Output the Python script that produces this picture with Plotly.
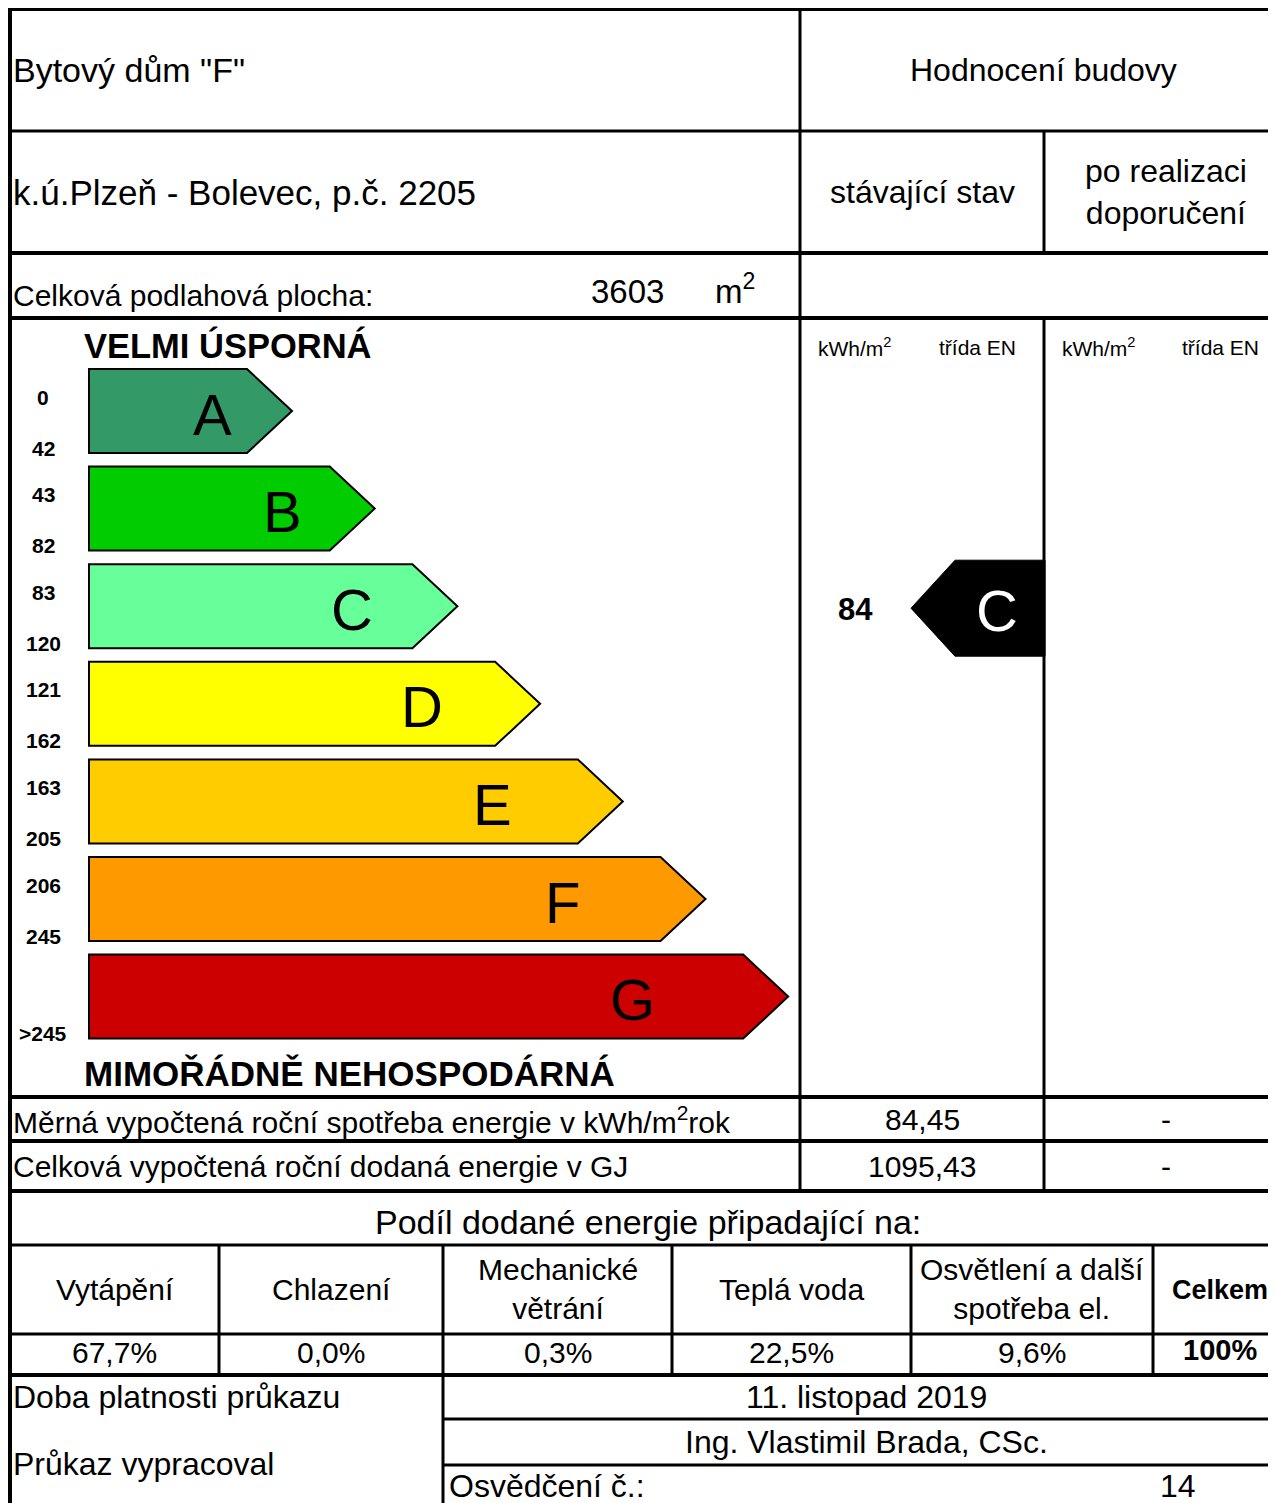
import plotly.graph_objects as go

# ---------------- data ----------------
building_name = 'Bytový dům "F"'
building_location = "k.ú.Plzeň - Bolevec, p.č. 2205"
floor_area_m2 = 3603

classes = ["A", "B", "C", "D", "E", "F", "G"]
class_colors = ["#339966", "#00CC00", "#66FF99", "#FFFF00", "#FFCC00", "#FF9900", "#CC0000"]
band_low = ["0", "43", "83", "121", "163", "206", ""]
band_high = ["42", "82", "120", "162", "205", "245", ">245"]

current_value_kwh_m2 = 84.45
current_total_gj = 1095.43
current_class = "C"
recommended_value = "-"
recommended_total = "-"

share_labels = ["Vytápění", "Chlazení", "Mechanické<br>větrání", "Teplá voda",
                "Osvětlení a další<br>spotřeba el."]
share_values = [67.7, 0.0, 0.3, 22.5, 9.6]
share_total_label = "Celkem"
share_total_value = "100%"

validity_date = "11. listopad 2019"
author = "Ing. Vlastimil Brada, CSc."
certificate_no = "14"

# ---------------- layout constants ----------------
W, H = 1276, 1503
OFF = 8  # page body margin
FONT = "Liberation Sans, Arial, sans-serif"
BLACK = "#000000"
PADX = 3  # annotation inner padding compensation

fig = go.Figure()
shapes = []
annotations = []


def hline(y, x0, x1, w):
    shapes.append(dict(type="line", x0=x0, x1=x1, y0=y, y1=y, xref="x", yref="y",
                       line=dict(color=BLACK, width=w)))


def vline(x, y0, y1, w):
    shapes.append(dict(type="line", x0=x, x1=x, y0=y0, y1=y1, xref="x", yref="y",
                       line=dict(color=BLACK, width=w)))


def text(x, y, s, size, anchor="left", bold=False, color=BLACK):
    if bold:
        s = "<b>" + s + "</b>"
    if anchor == "left":
        x = x - PADX
    annotations.append(dict(x=x, y=y, xref="x", yref="y", text=s, showarrow=False,
                            xanchor=anchor, yanchor="middle",
                            font=dict(family=FONT, size=size, color=color)))


def fmt_cz(v, nd):
    return f"{v:.{nd}f}".replace(".", ",")


# ---------------- grid ----------------
XL, XR = 10, W + 5
for y, x0, w in [(9, XL, 4), (131, XL, 3), (253, XL, 4), (318, XL, 4),
                 (1097, XL, 4), (1141, XL, 4), (1191, XL, 4), (1245, XL, 3),
                 (1334, XL, 3), (1375, XL, 4), (1419, 443, 3), (1465, 443, 3)]:
    hline(y, x0, XR, w)

vline(XL, OFF, H, 4)
vline(800, 9, 1191, 3)
vline(1044, 131, 253, 3)
vline(1044, 318, 1191, 3)
col_bounds = [XL, 219, 443, 672, 911, 1153, 1287]
for x in col_bounds[1:-1]:
    vline(x, 1245, 1375, 3)
vline(443, 1375, H, 3)

# ---------------- header ----------------
text(14, 70, building_name, 34)
text(1043, 70, "Hodnocení budovy", 32, "center")
text(14, 192, building_location, 35)
text(922, 192, "stávající stav", 32, "center")
text(1166, 192, "po realizaci<br>doporučení", 32, "center")
text(14, 295, "Celková podlahová plocha:", 30)
text(627, 291, str(floor_area_m2), 33, "center")
text(716, 289, "m<sup>2</sup>", 33)

text(855, 347, "kWh/m<sup>2</sup>", 21, "center")
text(977, 347, "třída EN", 21, "center")
text(1099, 347, "kWh/m<sup>2</sup>", 21, "center")
text(1220, 347, "třída EN", 21, "center")

# ---------------- class scale ----------------
text(85, 345, "VELMI ÚSPORNÁ", 34.5, bold=True)
text(85, 1073, "MIMOŘÁDNĚ NEHOSPODÁRNÁ", 35, bold=True)

TOP0, STEP, BH = 369, 97.6, 84
X0, BODY0, BODY_STEP, TIP = 89, 247, 82.7, 45
LET0, LET_STEP = 212, 70
for i, (c, col) in enumerate(zip(classes, class_colors)):
    top = TOP0 + i * STEP
    bot = top + BH
    mid = (top + bot) / 2
    xb = BODY0 + i * BODY_STEP
    path = f"M {X0},{top} L {xb},{top} L {xb + TIP},{mid} L {xb},{bot} L {X0},{bot} Z"
    shapes.append(dict(type="path", path=path, xref="x", yref="y", fillcolor=col,
                       line=dict(color=BLACK, width=2)))
    text(LET0 + i * LET_STEP, mid + 3, c, 58, "center")
    if band_low[i]:
        text(43, top + 28, band_low[i], 21, "center", bold=True)
    text(43, top + 79, band_high[i], 21, "center", bold=True)

# current class marker
ci = classes.index(current_class)
ctop = TOP0 + ci * STEP - 4
cbot = ctop + 96
cmid = (ctop + cbot) / 2
path = f"M 1045,{ctop} L 955,{ctop} L 911,{cmid} L 955,{cbot} L 1045,{cbot} Z"
shapes.append(dict(type="path", path=path, xref="x", yref="y", fillcolor=BLACK,
                   line=dict(color=BLACK, width=1)))
text(997, cmid + 2, current_class, 58, "center", color="#FFFFFF")
text(855, cmid + 1, str(round(current_value_kwh_m2)), 31, "center", bold=True)

# ---------------- energy rows ----------------
text(14, 1120, "Měrná vypočtená roční spotřeba energie v kWh/m<sup>2</sup>rok", 30)
text(922, 1119, fmt_cz(current_value_kwh_m2, 2), 30, "center")
text(1166, 1119, recommended_value, 30, "center")
text(14, 1166, "Celková vypočtená roční dodaná energie v GJ", 30)
text(922, 1166, fmt_cz(current_total_gj, 2), 30, "center")
text(1166, 1166, recommended_total, 30, "center")

# ---------------- shares ----------------
text(648, 1222, "Podíl dodané energie připadající na:", 34, "center")
centers = [(a + b) / 2 for a, b in zip(col_bounds[:-1], col_bounds[1:])]
for i, (lab, v) in enumerate(zip(share_labels, share_values)):
    text(centers[i], 1289, lab, 30, "center")
    text(centers[i], 1352, fmt_cz(v, 1) + "%", 30, "center")
text(centers[-1], 1290, share_total_label, 27, "center", bold=True)
text(centers[-1], 1350, share_total_value, 29, "center", bold=True)

# ---------------- footer ----------------
text(14, 1397, "Doba platnosti průkazu", 32)
text(866, 1397, validity_date, 32, "center")
text(14, 1464, "Průkaz vypracoval", 32)
text(866, 1442, author, 32, "center")
text(450, 1486, "Osvědčení č.:", 32)
text(1178, 1486, certificate_no, 32, "center")

fig.update_layout(
    width=W - OFF, height=H - OFF, margin=dict(l=0, r=0, t=0, b=0),
    paper_bgcolor="white", plot_bgcolor="white", showlegend=False,
    xaxis=dict(range=[OFF, W], visible=False, fixedrange=True),
    yaxis=dict(range=[H, OFF], visible=False, fixedrange=True),
    shapes=shapes, annotations=annotations,
)
fig.write_html("out.html", config={"displayModeBar": False})
